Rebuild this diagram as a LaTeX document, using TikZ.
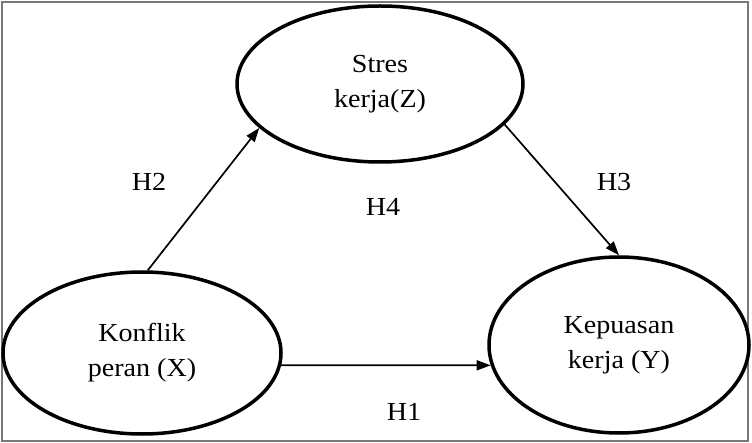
\documentclass[tikz,border=0pt]{standalone}
\usepackage{fontspec}
\setmainfont{Liberation Serif}[FakeStretch=1.08]
\definecolor{frameGray}{RGB}{120,120,120}
\usetikzlibrary{arrows.meta,positioning,shapes.geometric}

\begin{document}
\begin{tikzpicture}[x=1pt, y=-1pt,
  var/.style={ellipse, draw, line width=3.5pt, inner sep=0pt, align=center,
              font=\fontsize{26}{35}\selectfont},
  hyp/.style={font=\fontsize{26}{30}\selectfont, inner sep=0pt},
  link/.style={-{Triangle[length=14pt, width=10pt]}, line width=1.7pt}
]
  \useasboundingbox (0,0) rectangle (752,443);
  \draw[frameGray, line width=2pt] (2,2) rectangle (748,441);

  \node[var, minimum width=286pt, minimum height=156pt] (stres)    at (380,84)  {Stres\\kerja(Z)};
  \node[var, minimum width=278pt, minimum height=162pt] (konflik)  at (142,353) {Konflik\\peran (X)};
  \node[var, minimum width=260pt, minimum height=176pt] (kepuasan) at (619,345) {Kepuasan\\kerja (Y)};

  \draw[link] (konflik.86)  -- (stres.200);
  \draw[link] (stres.342)   -- (kepuasan.north);
  \draw[link] (konflik.-5)  -- (kepuasan.189);

  \node[hyp] (h2) at (149,182) {H2};
  \node[hyp] (h4) at (383,207) {H4};
  \node[hyp] (h3) at (614,182) {H3};
  \node[hyp] (h1) at (404,412) {H1};
\end{tikzpicture}
\end{document}
